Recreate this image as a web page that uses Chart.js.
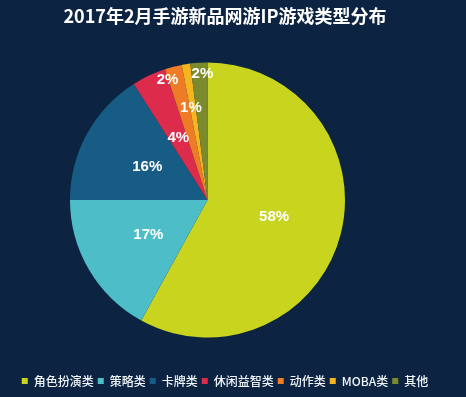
<!DOCTYPE html>
<html>
<head>
<meta charset="utf-8">
<script src="https://cdn.jsdelivr.net/npm/chart.js@4/dist/chart.umd.min.js"></script>
<style>
  html, body { margin: 0; padding: 0; background: #0c2442; }
  #wrap { width: 466px; height: 397px; position: relative; }
</style>
</head>
<body>
<div id="wrap"><canvas id="c"></canvas></div>
<script>
const categories = ['角色扮演类', '策略类', '卡牌类', '休闲益智类', '动作类', 'MOBA类', '其他'];
const shares = [58, 17, 16, 4, 2, 1, 2];
const sliceColors = ['#c8d41e', '#4dbec7', '#175c85', '#dc2b4b', '#ee7b26', '#f4b51e', '#7c8a2e'];
const titleText = '2017年2月手游新品网游IP游戏类型分布';

// label placement for each slice's percentage label (fraction of outer radius, angular nudge in degrees)
const labelRadiusFrac = [0.5, 0.5, 0.5, 0.5, 0.92, 0.68, 0.92];
const labelAngleNudge = [0, 0, 0, 0, -4, -1.2, 1.3];

const pctLabels = {
  id: 'pctLabels',
  afterDatasetsDraw(chart) {
    const ctx = chart.ctx;
    const meta = chart.getDatasetMeta(0);
    ctx.save();
    ctx.font = 'bold 15px "Liberation Sans", Arial, sans-serif';
    ctx.fillStyle = '#ffffff';
    ctx.textAlign = 'center';
    ctx.textBaseline = 'middle';
    meta.data.forEach((arc, i) => {
      const p = arc.getProps(['x', 'y', 'startAngle', 'endAngle', 'outerRadius'], true);
      const mid = (p.startAngle + p.endAngle) / 2 + labelAngleNudge[i] * Math.PI / 180;
      const r = p.outerRadius * labelRadiusFrac[i];
      ctx.fillText(shares[i] + '%', p.x + Math.cos(mid) * r, p.y + Math.sin(mid) * r);
    });
    ctx.restore();
  }
};

new Chart(document.getElementById('c'), {
  type: 'pie',
  data: {
    labels: categories,
    datasets: [{
      data: shares,
      backgroundColor: sliceColors,
      borderWidth: 0,
      radius: 137.5
    }]
  },
  options: {
    responsive: true,
    maintainAspectRatio: false,
    animation: false,
    layout: { padding: { left: 4, right: 20, top: 0, bottom: 0 } },
    plugins: {
      tooltip: { enabled: false },
      title: {
        display: true,
        text: titleText,
        color: '#ffffff',
        font: { family: '"Noto Sans CJK SC", sans-serif', size: 18, weight: 'bold', lineHeight: 1.2 },
        padding: { top: 5, bottom: 2.4 }
      },
      subtitle: {
        display: true,
        position: 'right',
        text: ' ',
        color: 'rgba(0,0,0,0)',
        font: { size: 1, lineHeight: 1 },
        padding: { top: 17, bottom: 17 }
      },
      legend: {
        position: 'bottom',
        labels: {
          color: '#f0f4f8',
          boxWidth: 6,
          boxHeight: 6,
          padding: 4,
          font: { family: '"Noto Sans CJK SC", sans-serif', size: 12, weight: '500' }
        }
      }
    }
  },
  plugins: [pctLabels]
});
</script>
</body>
</html>
